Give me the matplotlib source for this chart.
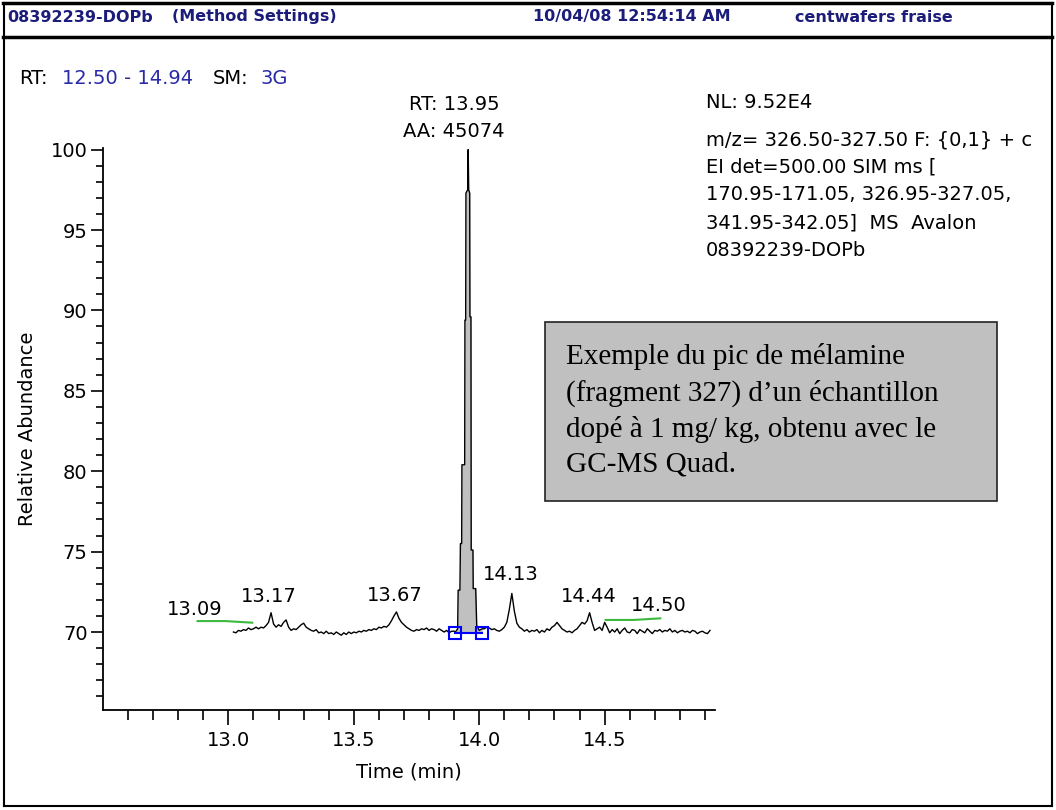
import numpy as np
import matplotlib.pyplot as plt
from matplotlib.lines import Line2D
from matplotlib.patches import Rectangle
from matplotlib.ticker import MultipleLocator

W, H = 1056, 810

# signal (pas de 0.01 min)
noise_left = [
    70.0, 69.95, 70.1, 70.05, 70.15, 70.1, 70.25, 70.15, 70.2, 70.3,
    70.2, 70.3, 70.25, 70.4, 70.6, 71.2, 70.5, 70.3, 70.45, 70.35,
    70.6, 70.75, 70.3, 70.1, 70.2, 70.15, 70.3, 70.45, 70.55, 70.3,
    70.2, 70.1, 70.05, 70.15, 69.95, 70.0, 69.9, 70.05, 69.9, 69.95,
    69.85, 70.0, 69.9, 69.8, 69.95, 69.85, 70.0, 69.9, 70.0, 69.95,
    70.05, 70.0, 70.1, 70.05, 70.15, 70.1, 70.2, 70.15, 70.3, 70.25,
    70.35, 70.3, 70.45, 70.7, 71.0, 71.25, 70.85, 70.6, 70.45, 70.3,
    70.2, 70.1, 70.05, 70.15, 70.1, 70.2, 70.15, 70.25, 70.1, 70.2,
    70.15, 70.05, 70.2, 70.1, 70.0, 70.1, 69.95, 70.05,
]
noise_right = [
    70.2, 70.3, 70.25, 70.15, 70.2, 70.1, 70.05, 70.15, 70.3, 70.6,
    71.4, 72.4, 71.3, 70.55, 70.3, 70.2, 70.05, 70.15, 70.0, 70.1,
    70.05, 70.15, 69.95, 70.1, 70.0, 70.2, 70.1, 70.3, 70.4, 70.6,
    70.4, 70.2, 70.1, 70.0, 70.05, 69.95, 70.1, 70.2, 70.4, 70.6,
    70.5, 70.7, 71.2, 70.6, 70.1, 70.2, 70.3, 70.1, 70.6, 70.3,
    69.95, 70.15, 70.0, 70.2, 69.9, 70.1, 70.25, 70.0, 69.95, 70.15,
    70.1, 69.9, 70.15, 70.05, 69.95, 70.2, 70.05, 69.9, 70.1, 70.05,
    70.15, 70.0, 70.1, 70.05, 70.2, 70.0, 70.1, 69.95, 70.05, 70.1,
    70.0, 70.05, 69.95, 70.1, 70.05, 69.9, 70.0, 70.05, 69.95, 69.9, 70.1,
]
peak_t = [13.900, 13.905, 13.914, 13.916, 13.923, 13.925, 13.930, 13.931,
          13.942, 13.943, 13.946, 13.947, 13.954, 13.956, 13.958, 13.962,
          13.963, 13.967, 13.968, 13.975, 13.976, 13.986, 13.990, 14.000, 14.012]
peak_v = [70.05, 70.0, 70.2, 72.6, 72.6, 75.5, 75.5, 80.4,
          80.4, 89.4, 89.4, 97.3, 97.5, 100.0, 97.5, 97.3,
          89.6, 89.6, 75.1, 75.1, 72.7, 72.7, 70.4, 70.1, 70.2]

peak_labels = ["13.09", "13.17", "13.67", "14.13", "14.44", "14.50"]
label_t = [12.865, 13.159, 13.663, 14.127, 14.437, 14.714]
label_v = [71.43, 72.18, 72.30, 73.60, 72.18, 71.62]

# lignes de base (vert) et bornes d'intégration
base1_t = [12.877, 12.988, 13.095]
base1_v = [70.68, 70.68, 70.58]
base2_t = [14.504, 14.615, 14.722]
base2_v = [70.75, 70.75, 70.85]
integ_t = [13.905, 14.012]
integ_v = [69.94, 69.94]

x_major = [13.0, 13.5, 14.0, 14.5]

t_left = np.round(13.02 + 0.01 * np.arange(len(noise_left)), 3)
t_right = np.round(14.02 + 0.01 * np.arange(len(noise_right)), 3)
trace_t = np.concatenate([t_left, peak_t, t_right])
trace_v = np.concatenate([noise_left, peak_v, noise_right])

plt.rcParams['font.family'] = ['DejaVu Sans']
BLUE_TXT = "#2a2aa8"


def fx(px):
    return px / W


def fy(py):
    return 1 - py / H


fig = plt.figure(figsize=(W / 100, H / 100), dpi=100)
fig.patch.set_facecolor("white")
ax = fig.add_axes([fx(103), fy(710), fx(715) - fx(103), fy(148) - fy(710)])

# pic integré (gris)
pt = np.array(peak_t)
pv = np.array(peak_v)
mask = (pt >= integ_t[0]) & (pt <= integ_t[1])
ax.fill_between(pt[mask], integ_v[0], pv[mask], color="#c0c0c0", lw=0)
ax.plot(trace_t, trace_v, color="black", lw=1.0)

ax.plot(base1_t, base1_v, color="#3cb93c", lw=1.5)
ax.plot(base2_t, base2_v, color="#3cb93c", lw=1.5)
ax.plot(integ_t, integ_v, color="#0000ff", lw=1.5, marker="s", ms=9,
        mfc="none", mec="#0000ff", mew=1.5)

for lab, t, v in zip(peak_labels, label_t, label_v):
    ax.text(t, v, lab, ha="center", va="center", fontsize=14)

ax.set_xlim(12.50, 14.94)
ax.set_ylim(65.15, 100.1)
for s in ["top", "right"]:
    ax.spines[s].set_visible(False)
for s in ["left", "bottom"]:
    ax.spines[s].set_linewidth(1.3)
ax.set_xticks(x_major)
ax.set_xticks(np.round(np.arange(12.6, 14.95, 0.1), 1), minor=True)
ax.yaxis.set_major_locator(MultipleLocator(5))
ax.yaxis.set_minor_locator(MultipleLocator(1))
ax.xaxis.set_major_formatter(plt.FormatStrFormatter("%.1f"))
ax.tick_params(axis="x", which="major", length=11, width=1.2, labelsize=14, pad=4)
ax.tick_params(axis="x", which="minor", length=7, width=1.2)
ax.tick_params(axis="y", which="major", length=9, width=1.2, labelsize=14, pad=2)
ax.tick_params(axis="y", which="minor", length=5, width=1.2)
ax.set_xlabel("Time (min)", fontsize=14, labelpad=9)
ax.set_ylabel("Relative Abundance", fontsize=14, labelpad=10)

ax.text(13.90, 102.8, "RT: 13.95", ha="center", va="center", fontsize=14)
ax.text(13.90, 101.1, "AA: 45074", ha="center", va="center", fontsize=14)

# en-tête
hdr = dict(fontsize=11.5, fontweight="bold", color="#1c1c7a", va="center")
fig.text(fx(7), fy(17), "08392239-DOPb", **hdr)
fig.text(fx(172), fy(17), "(Method Settings)", **hdr)
fig.text(fx(533), fy(17), "10/04/08 12:54:14 AM", **hdr)
fig.text(fx(795), fy(17), "centwafers fraise", **hdr)

fig.text(fx(19), fy(78), "RT:", fontsize=14, va="center")
fig.text(fx(62), fy(78), "12.50 - 14.94", fontsize=14, va="center", color=BLUE_TXT)
fig.text(fx(213), fy(78), "SM:", fontsize=14, va="center")
fig.text(fx(261), fy(78), "3G", fontsize=14, va="center", color=BLUE_TXT)

info = ["NL: 9.52E4", "m/z= 326.50-327.50 F: {0,1} + c", "EI det=500.00 SIM ms [",
        "170.95-171.05, 326.95-327.05,", "341.95-342.05]  MS  Avalon", "08392239-DOPb"]
for txt, py in zip(info, [103, 140, 167, 195, 223, 251]):
    fig.text(fx(706), fy(py), txt, fontsize=14, va="center")

# encadré
fig.add_artist(Rectangle((fx(545), fy(501)), fx(997) - fx(545), fy(322) - fy(501),
                         transform=fig.transFigure, facecolor="#c0c0c0",
                         edgecolor="#222222", lw=1.2))
box_lines = ["Exemple du pic de mélamine", "(fragment 327) d\u2019un échantillon",
             "dopé à 1 mg/ kg, obtenu avec le", "GC-MS Quad."]
for txt, py in zip(box_lines, [357, 393, 429, 465]):
    fig.text(fx(566), fy(py), txt, fontsize=21, family="Liberation Serif", va="center")

# cadre
frame = dict(transform=fig.transFigure, color="black")
fig.add_artist(Line2D([fx(3), fx(1052)], [fy(3), fy(3)], lw=2.5, **frame))
fig.add_artist(Line2D([fx(3), fx(1052)], [fy(37), fy(37)], lw=2.5, **frame))
fig.add_artist(Line2D([fx(4), fx(4)], [fy(3), fy(806)], lw=1.5, **frame))
fig.add_artist(Line2D([fx(1052), fx(1052)], [fy(3), fy(806)], lw=1.5, **frame))
fig.add_artist(Line2D([fx(4), fx(1052)], [fy(806), fy(806)], lw=1.5, **frame))

fig.savefig("out.png", dpi=100)
